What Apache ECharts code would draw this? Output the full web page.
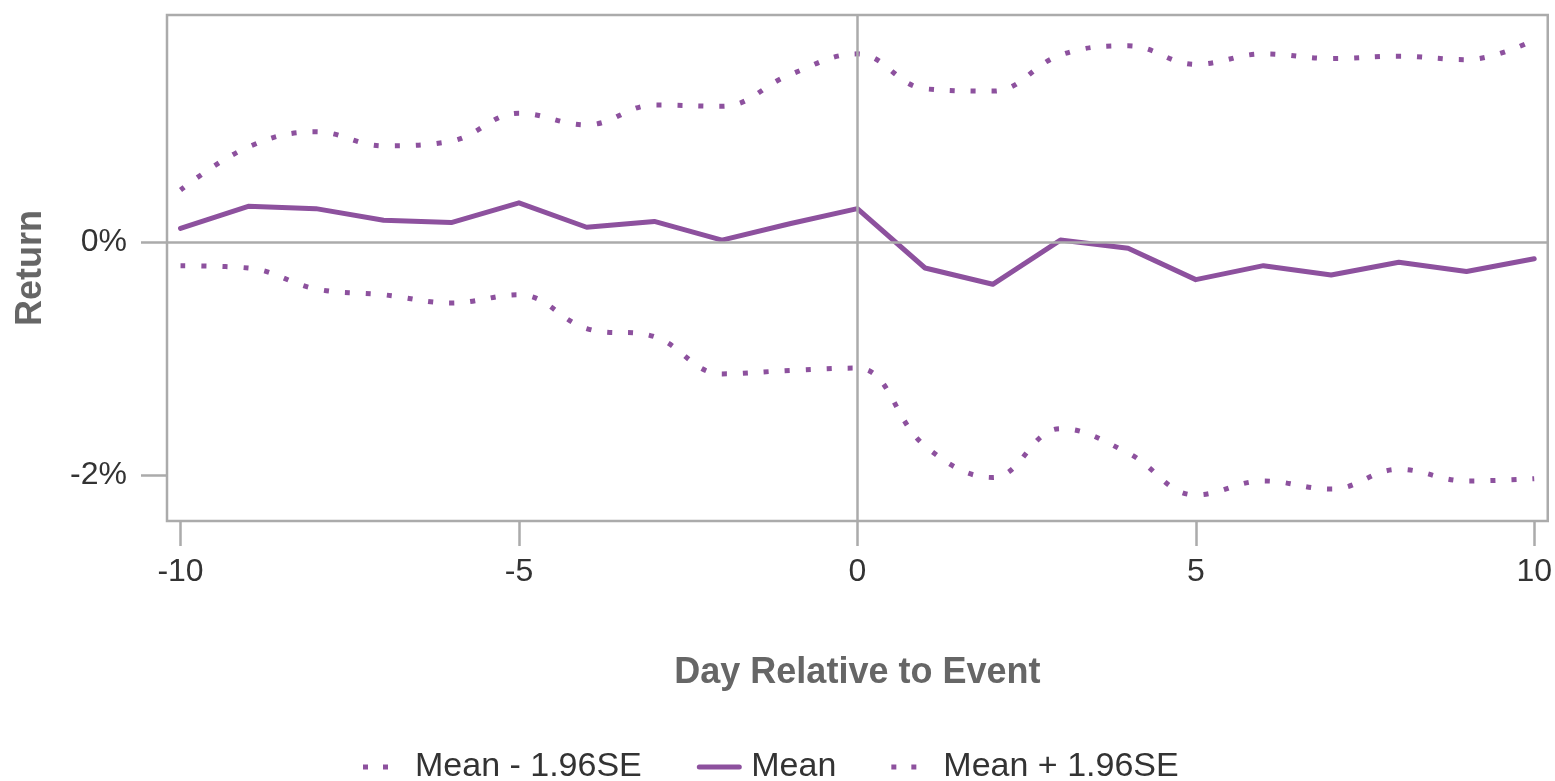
<!DOCTYPE html>
<html>
<head>
<meta charset="utf-8">
<script src="https://cdn.jsdelivr.net/npm/echarts@6/dist/echarts.min.js"></script>
<style>
  html, body { margin: 0; padding: 0; background: #fff; }
  #chart { width: 1555px; height: 781px; }
</style>
</head>
<body>
<div id="chart"></div>
<script>
// day relative to the event
var days = [-10, -9, -8, -7, -6, -5, -4, -3, -2, -1, 0, 1, 2, 3, 4, 5, 6, 7, 8, 9, 10];
// mean return, in percent
var meanRet = [0.12, 0.31, 0.29, 0.19, 0.17, 0.34, 0.13, 0.18, 0.02, 0.16, 0.29,
               -0.22, -0.36, 0.02, -0.05, -0.32, -0.20, -0.28, -0.17, -0.25, -0.14];
// mean - 1.96SE
var lowerRet = [-0.20, -0.22, -0.40, -0.45, -0.52, -0.45, -0.74, -0.81, -1.13, -1.10, -1.08,
                -1.75, -2.02, -1.60, -1.81, -2.17, -2.05, -2.12, -1.95, -2.05, -2.03];
// mean + 1.96SE
var upperRet = [0.45, 0.82, 0.95, 0.83, 0.87, 1.11, 1.01, 1.18, 1.17, 1.44, 1.62,
                1.32, 1.30, 1.61, 1.69, 1.53, 1.62, 1.58, 1.60, 1.57, 1.74];
var xTicks = [-10, -5, 0, 5, 10];
var yTicks = [-2, 0];

var purple = '#8D519E';
var grey = '#ABABAB';
var font = '"Liberation Sans", Arial, sans-serif';

function pairs(ys) {
  return days.map(function (d, i) { return [d, ys[i]]; });
}

// two square dots for the band lines in the legend (path box is 40x14, same as the item)
var dotsIcon = 'path://M0,0L0.01,0L0,0.01Z M0,4.5h5v5h-5Z M20,4.5h5v5h-5Z M40,14L39.99,14L40,13.99Z';

var chart = echarts.init(document.getElementById('chart'));
var option = {
  animation: false,
  textStyle: { fontFamily: font },
  grid: {
    left: 167, right: 5, top: 15, bottom: 260,
    show: true, borderColor: grey, borderWidth: 2.5, backgroundColor: '#fff'
  },
  legend: {
    left: 358, top: 745,
    itemWidth: 40, itemHeight: 14, itemGap: 55,
    data: [
      { name: 'Mean - 1.96SE', icon: dotsIcon, itemStyle: { color: purple, opacity: 1, borderWidth: 0 } },
      { name: 'Mean' },
      { name: 'Mean + 1.96SE', icon: dotsIcon, itemStyle: { color: purple, opacity: 1, borderWidth: 0 } }
    ],
    itemStyle: { opacity: 0 },
    lineStyle: { width: 5 },
    textStyle: { fontSize: 34, color: '#333', fontFamily: font, padding: [0, 0, 0, 7] }
  },
  xAxis: {
    type: 'value', min: -10.2, max: 10.2,
    name: 'Day Relative to Event', nameLocation: 'middle', nameGap: 134,
    nameTextStyle: { fontSize: 36, fontWeight: 'bold', color: '#666', fontFamily: font },
    axisLine: { show: false, onZero: false },
    splitLine: { show: false },
    axisTick: { show: true, customValues: xTicks, length: 25, lineStyle: { color: grey, width: 2.5 } },
    axisLabel: { customValues: xTicks, margin: 35, fontSize: 32, color: '#333', fontFamily: font }
  },
  yAxis: {
    type: 'value', min: -2.394, max: 1.954,
    name: 'Return', nameLocation: 'middle', nameGap: 118,
    nameTextStyle: { fontSize: 36, fontWeight: 'bold', color: '#666', fontFamily: font },
    axisLine: { show: false, onZero: false },
    splitLine: { show: false },
    axisTick: { show: true, customValues: yTicks, length: 26, lineStyle: { color: grey, width: 2.5 } },
    axisLabel: {
      customValues: yTicks, margin: 40, fontSize: 32, color: '#333', fontFamily: font,
      formatter: function (v) { return v + '%'; }
    }
  },
  series: [
    {
      // reference lines at zero
      name: 'ref', type: 'line', data: [], z: 1, silent: true,
      markLine: {
        silent: true, symbol: 'none', label: { show: false },
        lineStyle: { color: grey, width: 2.5, type: 'solid' },
        data: [{ yAxis: 0 }, { xAxis: 0 }]
      }
    },
    {
      name: 'Mean - 1.96SE', type: 'line', data: pairs(lowerRet), z: 3,
      symbol: 'none', smooth: 0.4, color: purple,
      lineStyle: { color: purple, width: 5, type: [5, 16], cap: 'butt' }
    },
    {
      name: 'Mean', type: 'line', data: pairs(meanRet), z: 3,
      symbol: 'none', color: purple,
      lineStyle: { color: purple, width: 5, cap: 'round', join: 'round' }
    },
    {
      name: 'Mean + 1.96SE', type: 'line', data: pairs(upperRet), z: 3,
      symbol: 'none', smooth: 0.4, color: purple,
      lineStyle: { color: purple, width: 5, type: [5, 16], cap: 'butt' }
    }
  ]
};
chart.setOption(option);
</script>
</body>
</html>
